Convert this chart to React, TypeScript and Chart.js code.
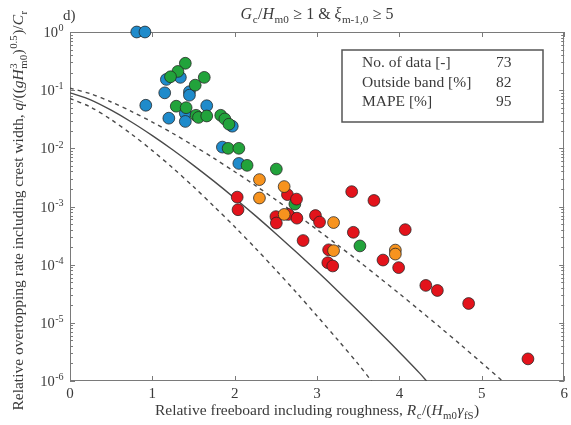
import { useEffect, useRef } from 'react';
import { Chart, registerables } from 'chart.js';

Chart.register(...registerables);

// ---- data ----
const blueX = [0.81, 0.91, 1.17, 1.34, 1.15, 1.45, 1.45, 0.92, 1.66, 1.2, 1.4, 1.4, 1.97, 1.85, 2.05];
const blueY = [1.0, 1.0, 0.153, 0.166, 0.09, 0.094, 0.082, 0.055, 0.054, 0.033, 0.04, 0.029, 0.024, 0.0105, 0.0055];

const greenX = [1.4, 1.31, 1.22, 1.63, 1.52, 1.29, 1.41, 1.53, 1.56, 1.66, 1.83, 1.88, 1.93, 1.92, 2.05, 2.15, 2.505, 2.73, 3.52];
const greenY = [0.29, 0.21, 0.17, 0.166, 0.122, 0.053, 0.05, 0.037, 0.034, 0.036, 0.037, 0.032, 0.026, 0.01, 0.01, 0.0051, 0.0044, 0.0011, 0.00021];

const orangeX = [2.3, 2.6, 2.3, 2.6, 3.2, 3.2, 3.95, 3.95];
const orangeY = [0.0029, 0.0022, 0.0014, 0.00073, 0.00053, 0.000174, 0.000178, 0.000152];

const redX = [2.03, 2.64, 2.75, 2.04, 3.42, 3.69, 2.5, 2.65, 2.505, 2.755, 2.98, 3.03, 3.44, 4.07, 2.83, 3.14, 3.8, 3.99, 3.13, 3.19, 4.32, 4.46, 4.84, 5.56];
const redY = [0.00145, 0.0016, 0.00134, 0.00088, 0.0018, 0.00127, 0.00067, 0.00073, 0.00052, 0.00063, 0.0007, 0.00054, 0.00036, 0.0004, 0.00026, 0.00018, 0.00012, 0.000089, 0.000108, 0.000095, 4.4e-5, 3.6e-5, 2.15e-5, 2.4e-6];

// reference curves
const solidX = [0, 0.25, 0.5, 0.75, 1, 1.25, 1.5, 1.75, 2, 2.25, 2.5, 2.75, 3, 3.25, 3.5, 3.75, 4, 4.25, 4.33];
const solidY = [0.09, 0.0681, 0.0452, 0.0281, 0.01654, 0.00935, 0.0051, 0.0027, 0.00139, 0.000697, 0.000341, 0.000163, 7.68e-5, 3.54e-5, 1.6e-5, 7.12e-6, 3.12e-6, 1.34e-6, 1.0e-6];

const upperX = [0, 0.25, 0.5, 0.75, 1, 1.25, 1.5, 1.75, 2, 2.25, 2.5, 2.75, 3, 3.25, 3.5, 3.75, 4, 4.25, 4.5, 4.75, 5, 5.25];
const upperY = [0.108, 0.0866, 0.0626, 0.0429, 0.0282, 0.018, 0.0111, 0.00671, 0.00396, 0.0023, 0.0013, 0.000728, 0.0004, 0.000217, 0.000116, 6.08e-5, 3.16e-5, 1.62e-5, 8.22e-6, 4.12e-6, 2.04e-6, 1.0e-6];

const lowerX = [0, 0.25, 0.5, 0.75, 1, 1.25, 1.5, 1.75, 2, 2.25, 2.5, 2.75, 3, 3.25, 3.5, 3.66];
const lowerY = [0.072, 0.0512, 0.0311, 0.0174, 0.00914, 0.00457, 0.00218, 0.001, 0.000447, 0.000193, 8.07e-5, 3.3e-5, 1.31e-5, 5.11e-6, 1.95e-6, 1.0e-6];

const xTicks = [0, 1, 2, 3, 4, 5, 6];
const yDecades = [-6, -5, -4, -3, -2, -1, 0];
const yMinorMult = [2, 3, 4, 5, 6, 7, 8, 9];

const statLabels = ['No. of data [-]', 'Outside band [%]', 'MAPE [%]'];
const statValues = ['73', '82', '95'];

// ---- rich text helpers ----
type Seg = { t: string; i?: boolean; sup?: string; sub?: string };
const FAM = '"Liberation Serif", "Times New Roman", serif';
const fnt = (size: number, it?: boolean) => `${it ? 'italic ' : ''}${size}px ${FAM}`;

function scriptWidth(ctx: CanvasRenderingContext2D, s: Seg, size: number) {
  const ss = size * 0.7;
  ctx.font = fnt(ss);
  let w = 0;
  if (s.sup) w = Math.max(w, ctx.measureText(s.sup).width);
  if (s.sub) w = Math.max(w, ctx.measureText(s.sub).width);
  return w ? w + size * 0.06 : 0;
}
function richWidth(ctx: CanvasRenderingContext2D, segs: Seg[], size: number) {
  let w = 0;
  for (const s of segs) {
    ctx.font = fnt(size, s.i);
    w += ctx.measureText(s.t).width;
    w += scriptWidth(ctx, s, size);
  }
  return w;
}
function drawRich(ctx: CanvasRenderingContext2D, segs: Seg[], x: number, y: number, size: number, align: 'left' | 'center' | 'right') {
  const w = richWidth(ctx, segs, size);
  let cx = align === 'center' ? x - w / 2 : align === 'right' ? x - w : x;
  ctx.textAlign = 'left';
  ctx.textBaseline = 'alphabetic';
  for (const s of segs) {
    ctx.font = fnt(size, s.i);
    ctx.fillText(s.t, cx, y);
    cx += ctx.measureText(s.t).width;
    const sw = scriptWidth(ctx, s, size);
    ctx.font = fnt(size * 0.7);
    if (s.sup) ctx.fillText(s.sup, cx + size * 0.03, y - size * 0.4);
    if (s.sub) ctx.fillText(s.sub, cx + size * 0.03, y + size * 0.25);
    cx += sw;
  }
}

const titleSegs: Seg[] = [
  { t: 'G', i: true, sub: 'c' }, { t: '/' }, { t: 'H', i: true, sub: 'm0' }, { t: ' \u2265 1 & ' },
  { t: '\u03BE', i: true, sub: 'm-1,0' }, { t: ' \u2265 5' },
];
const xLabelSegs: Seg[] = [
  { t: 'Relative freeboard including roughness, ' }, { t: 'R', i: true, sub: 'c' }, { t: '/(' },
  { t: 'H', i: true, sub: 'm0' }, { t: '\u03B3', i: true, sub: 'fS' }, { t: ')' },
];
const yLabelSegs: Seg[] = [
  { t: 'Relative overtopping rate including crest width, ' }, { t: 'q', i: true }, { t: '/((' },
  { t: 'g', i: true }, { t: 'H', i: true, sup: '3', sub: 'm0' }, { t: ')', sup: '0.5' }, { t: ')/' },
  { t: 'C', i: true, sub: 'r' },
];

const TXT = '#3a3a3a';
const AXIS = '#7a7a7a';

const overlay = {
  id: 'overlay',
  beforeDatasetsDraw(chart: any) {
    const { ctx, chartArea: a, scales } = chart;
    const xs = scales.x;
    const ys = scales.y;
    ctx.save();
    ctx.strokeStyle = AXIS;
    ctx.lineWidth = 1;
    ctx.strokeRect(Math.round(a.left) + 0.5, Math.round(a.top) + 0.5, Math.round(a.right - a.left) - 1, Math.round(a.bottom - a.top) - 1);
    ctx.beginPath();
    for (const v of xTicks) {
      const px = Math.round(xs.getPixelForValue(v)) + 0.5;
      ctx.moveTo(px, a.bottom); ctx.lineTo(px, a.bottom - 5);
      ctx.moveTo(px, a.top); ctx.lineTo(px, a.top + 5);
    }
    for (const d of yDecades) {
      const mults = d === 0 ? [1] : [1, ...yMinorMult];
      for (const m of mults) {
        const v = m * Math.pow(10, d);
        const py = Math.round(ys.getPixelForValue(v)) + 0.5;
        const len = m === 1 ? 5 : 3;
        ctx.moveTo(a.left, py); ctx.lineTo(a.left + len, py);
        ctx.moveTo(a.right, py); ctx.lineTo(a.right - len, py);
      }
    }
    ctx.stroke();
    ctx.restore();
  },
  afterDraw(chart: any) {
    const { ctx, chartArea: a, scales } = chart;
    const xs = scales.x;
    const ys = scales.y;
    ctx.save();
    ctx.fillStyle = TXT;
    // x tick labels
    ctx.font = fnt(15);
    ctx.textAlign = 'center';
    ctx.textBaseline = 'alphabetic';
    for (const v of xTicks) ctx.fillText(String(v), xs.getPixelForValue(v), a.bottom + 17);
    // y tick labels
    for (const d of yDecades) {
      const py = ys.getPixelForValue(Math.pow(10, d));
      drawRich(ctx, [{ t: '10', sup: String(d) }], a.left - 6, py + 5, 14.5, 'right');
    }
    // title and panel tag
    ctx.font = fnt(15);
    ctx.textAlign = 'left';
    ctx.fillText('d)', 63, 20);
    drawRich(ctx, titleSegs, (a.left + a.right) / 2, 19, 16, 'center');
    // x label
    drawRich(ctx, xLabelSegs, (a.left + a.right) / 2, a.bottom + 34, 15.5, 'center');
    // y label
    ctx.save();
    ctx.translate(23, (a.top + a.bottom) / 2 + 4);
    ctx.rotate(-Math.PI / 2);
    drawRich(ctx, yLabelSegs, 0, 0, 15.5, 'center');
    ctx.restore();
    // stats box
    ctx.strokeStyle = '#555';
    ctx.lineWidth = 1.5;
    ctx.strokeRect(342, 50, 201, 72);
    ctx.font = fnt(15.5);
    ctx.textAlign = 'left';
    statLabels.forEach((s, i) => {
      ctx.fillText(s, 362, 67 + i * 19.5);
      ctx.fillText(statValues[i], 496, 67 + i * 19.5);
    });
    ctx.restore();
  },
};

const pts = (xs: number[], ys: number[]) => xs.map((x, i) => ({ x, y: ys[i] }));

const pointDs = (label: string, xs: number[], ys: number[], color: string) => ({
  type: 'scatter' as const,
  label,
  data: pts(xs, ys),
  backgroundColor: color,
  borderColor: 'rgba(35,35,35,0.85)',
  borderWidth: 0.9,
  pointRadius: 5.9,
  pointHoverRadius: 5.9,
  clip: false as any,
});

const lineDs = (label: string, xs: number[], ys: number[], dash: number[]) => ({
  type: 'line' as const,
  label,
  data: pts(xs, ys),
  borderColor: '#4a4a4a',
  borderWidth: 1.4,
  borderDash: dash,
  pointRadius: 0,
  tension: 0.3,
  fill: false,
});

export default function App() {
  const ref = useRef<HTMLCanvasElement | null>(null);
  useEffect(() => {
    document.body.style.margin = '0';
    const canvas = ref.current;
    if (!canvas) return;
    const chart = new Chart(canvas, {
      type: 'scatter',
      data: {
        datasets: [
          pointDs('orange', orangeX, orangeY, '#f7931e'),
          pointDs('red', redX, redY, '#e3131b'),
          pointDs('green', greenX, greenY, '#22a33b'),
          pointDs('blue', blueX, blueY, '#1f8bcb'),
          lineDs('upper', upperX, upperY, [4, 4]),
          lineDs('mean', solidX, solidY, []),
          lineDs('lower', lowerX, lowerY, [4, 4]),
        ] as any,
      },
      options: {
        animation: false,
        responsive: false,
        maintainAspectRatio: false,
        layout: { padding: { top: 32, right: 6, left: 0, bottom: 0 } },
        plugins: { legend: { display: false }, tooltip: { enabled: false }, title: { display: false } },
        scales: {
          x: {
            type: 'linear', min: 0, max: 6,
            ticks: { display: false }, grid: { display: false }, border: { display: false },
            afterFit: (s: any) => { s.height = 44; },
          },
          y: {
            type: 'logarithmic', min: 1e-6, max: 1,
            ticks: { display: false }, grid: { display: false }, border: { display: false },
            afterFit: (s: any) => { s.width = 70; },
          },
        },
      } as any,
      plugins: [overlay],
    });
    return () => chart.destroy();
  }, []);
  return <canvas ref={ref} width={571} height={425} style={{ display: 'block' }} />;
}
